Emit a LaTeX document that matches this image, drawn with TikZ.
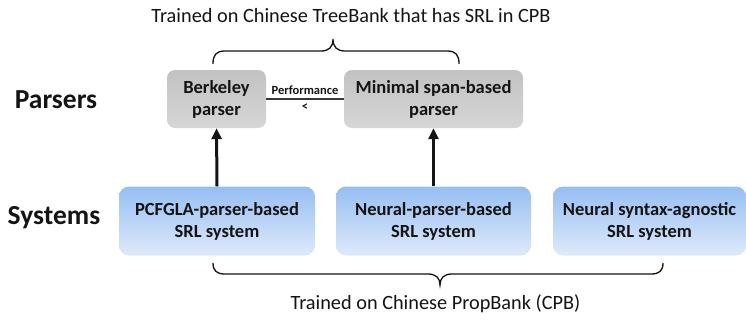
\documentclass[tikz,border=0pt]{standalone}
\usepackage{fontspec}
\setmainfont{Carlito}
\usetikzlibrary{arrows.meta}
\definecolor{txt}{RGB}{20,20,20}
\definecolor{grayA}{RGB}{194,194,194}
\definecolor{grayB}{RGB}{214,214,214}
\definecolor{blueA}{RGB}{150,190,242}
\definecolor{blueB}{RGB}{222,234,250}
\tikzset{
  parserbox/.style={rounded corners=8pt, top color=grayA, bottom color=grayB,
    draw=none, align=center, font=\fontsize{18.5}{22}\selectfont\bfseries,
    text=txt, inner sep=0pt},
  sysbox/.style={rounded corners=10pt, top color=blueA, bottom color=blueB,
    draw=none, align=center, font=\fontsize{18.5}{22}\selectfont\bfseries,
    text=txt, inner sep=0pt, minimum height=69pt},
  rowlabel/.style={font=\fontsize{27.5}{30}\selectfont\bfseries, text=txt},
  caption/.style={font=\fontsize{20.3}{24}\selectfont, text=txt},
  uparrow/.style={line width=3pt, -{Triangle[length=11pt,width=10pt]}, txt},
  bracepath/.style={line width=1.3pt, txt}
}
\begin{document}
\begin{tikzpicture}[x=1pt,y=-1pt]
\useasboundingbox (0,0) rectangle (746,322);

% row labels
\node[rowlabel] (parsers) at (56,100) {Parsers};
\node[rowlabel] (systems) at (54,218) {Systems};

% parsers
\node[parserbox, minimum width=99pt, minimum height=58pt] (bp) at (216.5,99) {Berkeley\\parser};
\node[parserbox, minimum width=179pt, minimum height=58pt] (msp) at (433.5,99) {Minimal span-based\\parser};

% systems
\node[sysbox, minimum width=196pt] (pcfg) at (217,221) {PCFGLA-parser-based\\SRL system};
\node[sysbox, minimum width=195pt] (nps) at (433.5,221) {Neural-parser-based\\SRL system};
\node[sysbox, minimum width=193pt] (nsa) at (649.5,221) {Neural syntax-agnostic\\SRL system};

% comparison between parsers
\draw[line width=1.6pt, txt!85] (bp.east) -- (msp.west)
  node[midway, above=0pt, font=\fontsize{12.5}{14}\selectfont\bfseries, text=txt] (perf) {Performance}
  node[midway, below=1pt, font=\fontsize{12.5}{14}\selectfont\bfseries, text=txt] (lt) {<};

% systems use parsers
\draw[uparrow] (pcfg.north) -- (bp.south);
\draw[uparrow] (nps.north) -- (msp.south);

% braces
\draw[bracepath] (213,64) .. controls (213,55) and (216,51) .. (225,51) -- (321,51)
  .. controls (329,51) and (333,47) .. (333,39)
  .. controls (333,47) and (337,51) .. (345,51) -- (447,51)
  .. controls (456,51) and (459,55) .. (459,64);
\draw[bracepath] (213,263) .. controls (213,271) and (217,274) .. (225,274) -- (428,274)
  .. controls (436,274) and (440,278) .. (440,285)
  .. controls (440,278) and (444,274) .. (452,274) -- (651,274)
  .. controls (659,274) and (663,271) .. (663,263);

% captions
\node[caption] (topcap) at (351,16) {Trained on Chinese TreeBank that has SRL in CPB};
\node[caption] (botcap) at (435.5,304) {Trained on Chinese PropBank (CPB)};
\end{tikzpicture}
\end{document}
